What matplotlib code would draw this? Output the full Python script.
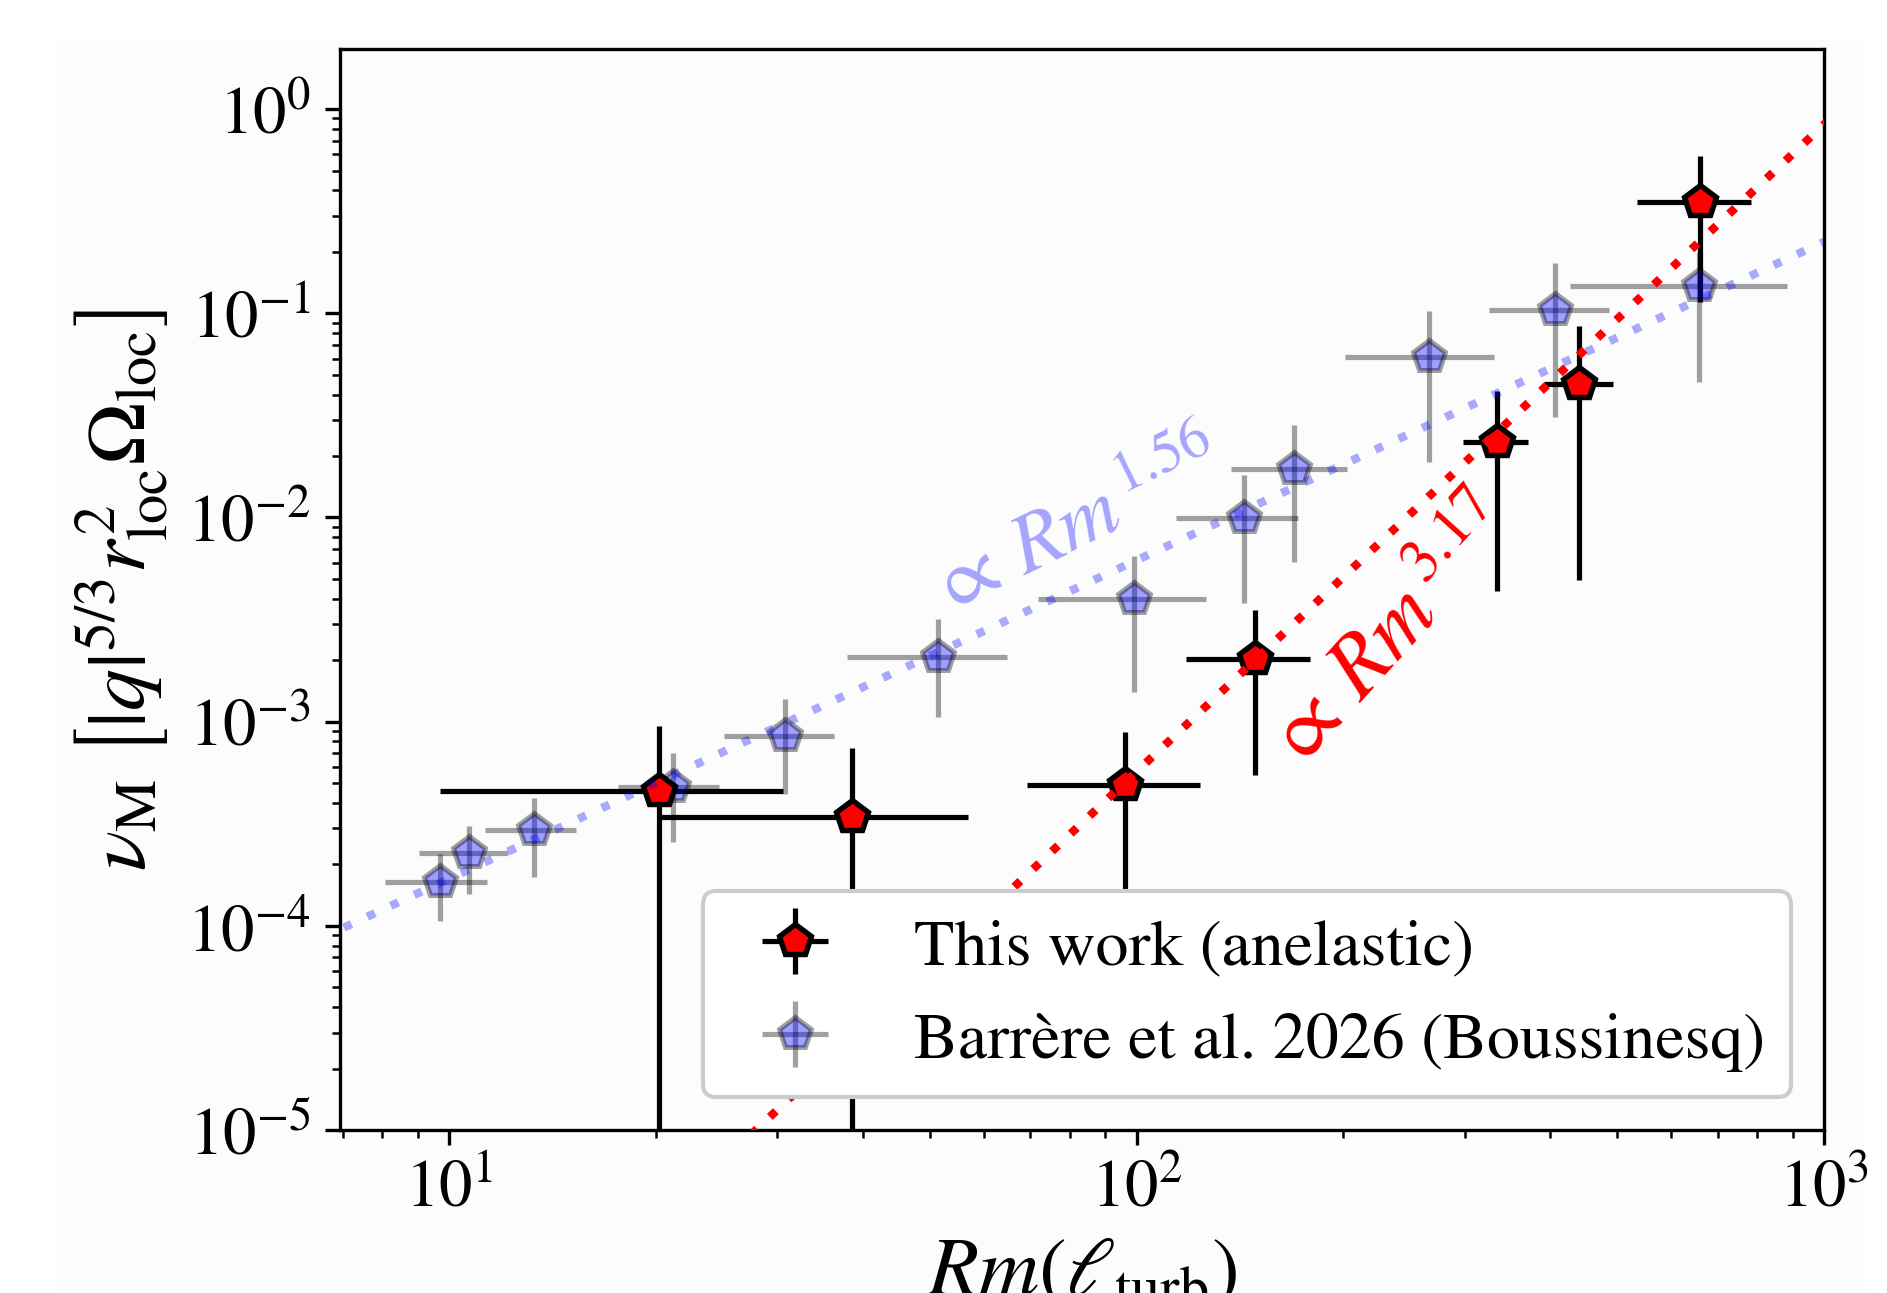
import numpy as np
import matplotlib
matplotlib.use("Agg")
import matplotlib.pyplot as plt
from matplotlib.patches import Rectangle

# This work (anelastic): Rm, nu_M and error bounds
work_rm = [20.2, 38.5, 96.3, 148.6, 335.0, 440.6, 661.0]
work_nu = [4.59e-4, 3.40e-4, 4.92e-4, 2.03e-3, 0.0234, 0.0453, 0.352]
work_rm_lo = [9.70, 20.3, 69.2, 117.9, 298.0, 391.6, 535.0]
work_rm_hi = [30.6, 56.8, 123.8, 179.0, 371.5, 494.0, 782.0]
work_nu_lo = [0.0, 0.0, 1e-4, 5.48e-4, 4.37e-3, 4.94e-3, 0.1133]
work_nu_hi = [9.5e-4, 7.46e-4, 8.86e-4, 3.51e-3, 0.0418, 0.0869, 0.592]

# Barrere et al. 2026 (Boussinesq)
bous_rm = [9.70, 10.69, 13.31, 21.2, 30.8, 51.4, 99.2, 143.1, 169.4, 266.6, 406.8, 656.9]
bous_nu = [1.64e-4, 2.27e-4, 2.96e-4, 4.81e-4, 8.51e-4, 2.07e-3, 3.98e-3, 9.94e-3,
           0.0173, 0.061, 0.104, 0.1365]
bous_rm_lo = [8.07, 9.04, 11.27, 17.6, 25.1, 37.9, 71.8, 114.0, 137.3, 200.7, 325.8, 426.6]
bous_rm_hi = [11.34, 12.2, 15.3, 24.7, 36.3, 64.7, 126.2, 172.0, 202.3, 331.5, 486.5, 884.4]
bous_nu_lo = [1.056e-4, 1.43e-4, 1.73e-4, 2.57e-4, 4.44e-4, 1.05e-3, 1.40e-3, 3.82e-3,
              6.04e-3, 0.01876, 0.0309, 0.0463]
bous_nu_hi = [2.24e-4, 3.07e-4, 4.23e-4, 7.06e-4, 1.29e-3, 3.2e-3, 6.51e-3, 0.01614,
              0.0284, 0.1025, 0.176, 0.2]

# power-law fits: nu = coef * Rm**expo
fit_work_coef, fit_work_expo = 2.6e-10, 3.17
fit_bous_coef, fit_bous_expo = 4.68e-6, 1.56


def err(vals, lo, hi):
    vals, lo, hi = map(np.asarray, (vals, lo, hi))
    return np.vstack([vals - lo, hi - vals])


plt.rcParams["font.family"] = "STIXGeneral"
plt.rcParams["mathtext.fontset"] = "stix"

fig = plt.figure(figsize=(6.29, 4.3133), dpi=300)
bg = "#fcfcfc"
fig.patches.append(Rectangle((58 / 1887, 0), (1863 - 58) / 1887, 1 - 43 / 1294,
                             transform=fig.transFigure, color=bg, zorder=-10))
ax = fig.add_axes([340 / 1887, 1 - 1131 / 1294, (1824 - 340) / 1887, (1131 - 50) / 1294])
ax.set_facecolor(bg)

h_bous = ax.errorbar(bous_rm, bous_nu,
                     xerr=err(bous_rm, bous_rm_lo, bous_rm_hi),
                     yerr=err(bous_nu, bous_nu_lo, bous_nu_hi),
                     fmt="p", ms=8, mfc="blue", mec="k", mew=1.2,
                     ecolor="k", elinewidth=1.25, alpha=0.37,
                     label="Barrère et al. 2026 (Boussinesq)")

h_work = ax.errorbar(work_rm, work_nu,
                     xerr=err(work_rm, work_rm_lo, work_rm_hi),
                     yerr=err(work_nu, work_nu_lo, work_nu_hi),
                     fmt="p", ms=8, mfc="red", mec="k", mew=1.3,
                     ecolor="k", elinewidth=1.25,
                     label="This work (anelastic)")

xfit = np.logspace(np.log10(6.5), 3.05, 200)
ax.plot(xfit, fit_work_coef * xfit ** fit_work_expo, color="red", lw=2.0,
        dashes=(1, 2.1), zorder=4)
ax.plot(xfit, fit_bous_coef * xfit ** fit_bous_expo, color="blue", alpha=0.33, lw=2.0,
        dashes=(1, 2.1), zorder=4)

ax.text(82, 8.8e-3, r"$\propto\, Rm^{\,1.56}$", color="blue", alpha=0.35, fontsize=20,
        rotation=26, ha="center", va="center")
ax.text(236, 2.64e-3, r"$\propto\, Rm^{\,3.17}$", color="red", fontsize=21,
        rotation=48, ha="center", va="center")

ax.set_xscale("log")
ax.set_yscale("log")
ax.set_xlim(6.94, 1000)
ax.set_ylim(1e-5, 1.97)
ax.tick_params(labelsize=16)

ax.set_xlabel(r"$Rm(\ell_{\rm turb})$", fontsize=20)
ax.set_ylabel(r"$\nu_{\rm M}\ \left[|q|^{5/3} r_{\rm loc}^2 \Omega_{\rm loc}\right]$", fontsize=20)

ax.legend(handles=[h_work, h_bous], loc="lower right", fontsize=15.8, framealpha=1)

fig.savefig("out.png", dpi=300)
